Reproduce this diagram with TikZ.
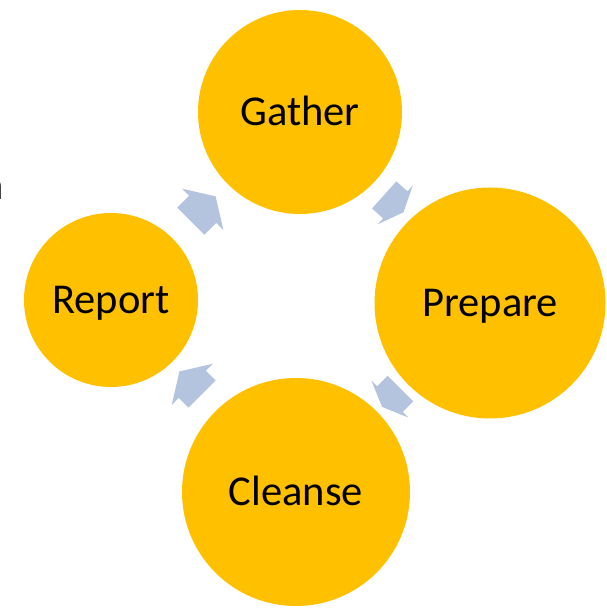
\documentclass[tikz,border=0pt]{standalone}
\usepackage{fontspec}
\setmainfont{Carlito}
\usetikzlibrary{shapes.arrows}
\definecolor{phasegold}{HTML}{FFC000}
\definecolor{turnblue}{HTML}{B4C4DF}
\tikzset{
  phase/.style={shape=circle,fill=phasegold,inner sep=0pt,text height=27pt,text depth=0pt,
    font=\fontsize{42.5}{50}\selectfont},
  turn/.style={shape=single arrow,fill=turnblue,inner xsep=0pt,inner ysep=19pt,minimum height=35pt,
    single arrow head extend=10pt,single arrow tip angle=116},
  turnsmall/.style={turn,minimum height=26pt,inner ysep=18pt,single arrow head extend=8pt,
    single arrow tip angle=134}
}
\begin{document}
\begin{tikzpicture}[x=1pt,y=1pt]
	\useasboundingbox (0,0) rectangle (607,608);
	% the four phases
	\node (gather) at (300,496) [phase,minimum size=204pt] {Gather};
	\node (prepare) at (490,305) [phase,minimum size=231pt] {Prepare};
	\node (cleanse) at (296,116) [phase,minimum size=228pt] {Cleanse};
	\node (report) at (111,308) [phase,minimum size=174pt] {Report};
	% arrows between them, clockwise
	\node (g2p) at (391,407) [turnsmall,rotate=-42] {};
	\node (p2c) at (394,213) [turnsmall,rotate=-135] {};
	\node (c2r) at (195,221) [turn,minimum height=32pt,rotate=135] {};
	\node (r2g) at (199,395) [turn,rotate=45] {};
	% cut-off letter at the left edge
	\begin{scope}
		\clip (0,0) rectangle (607,608);
		\node (edge) at (4.5,408) [anchor=base east,inner sep=0pt,font=\fontsize{42.5}{50}\selectfont] {n};
	\end{scope}
\end{tikzpicture}
\end{document}
